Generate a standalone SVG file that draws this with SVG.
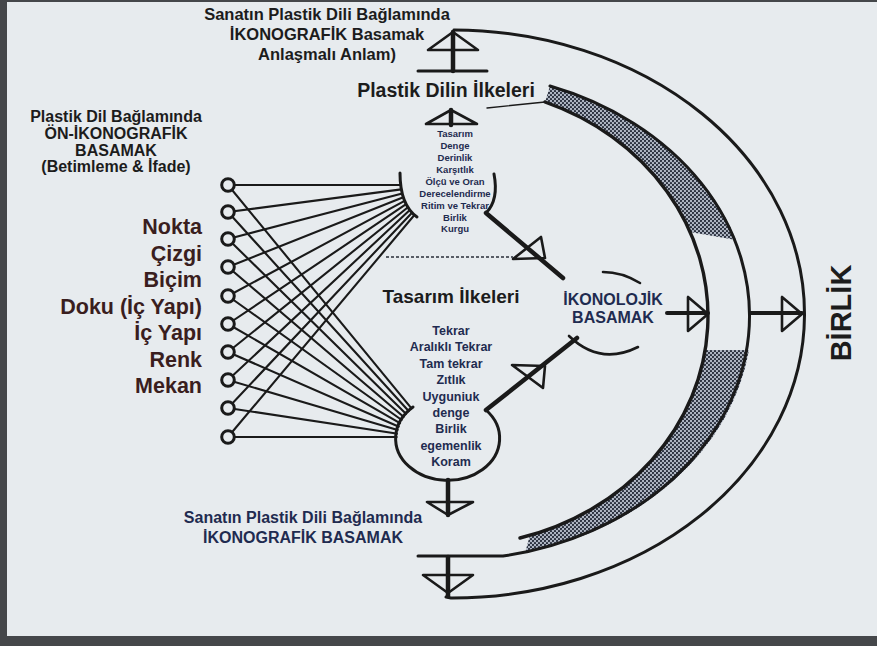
<svg xmlns="http://www.w3.org/2000/svg" width="877" height="646" viewBox="0 0 877 646">
<style>
text{font-family:"Liberation Sans",Arial,sans-serif;font-weight:bold}
.blk{fill:#1c1c1c}
.nav{fill:#1f2b50}
.mar{fill:#3a1e1e}
.ln{stroke:#1a1a1a;fill:none;stroke-linecap:round;stroke-linejoin:round}
.fan{stroke:#1a1a1a;stroke-width:2.1;fill:none}
.tri{stroke:#1a1a1a;stroke-width:2.6;fill:none;stroke-linejoin:round}
.dot{fill:#e7ebee;stroke:#1a1a1a;stroke-width:3}
</style>
<defs>
<pattern id="hatch" width="4" height="4" patternUnits="userSpaceOnUse">
<rect width="4" height="4" fill="#aeb5c2"/>
<circle cx="1" cy="1" r="1.1" fill="#222836"/>
<circle cx="3" cy="3" r="1.1" fill="#222836"/>
</pattern>
</defs>
<rect width="877" height="646" fill="#45474a"/>
<rect x="7" y="2" width="870" height="634" fill="#e7ebee"/>

<g id="band">
<path d="M550,86 A300,244 0 0 1 736,240 L690,232 A256,230 0 0 0 545,102 Z" fill="url(#hatch)"/>
<path d="M705,350 L749,350 A300,244 0 0 1 525,553 L530,535 A256,230 0 0 0 705,350 Z" fill="url(#hatch)"/>
</g>

<g id="connectors">
<path class="ln" stroke-width="3" d="M454,30 A352,284 0 0 1 451,598 L446,597"/>
<path class="ln" stroke-width="3" d="M550,86 A300,244 0 0 1 503,556 L418,556"/>
<path class="ln" stroke-width="1.4" d="M487,108 L545,102"/>
<path class="ln" stroke-width="3.4" d="M545,102 A256,230 0 0 1 520,538"/>
<path class="ln" stroke-width="4.5" d="M453,32 L453,71"/>
<polygon class="tri" points="453,32 428,50 478,50"/>
<path class="ln" stroke-width="3" d="M418,71 L487,71"/>
<path class="ln" stroke-width="4.5" d="M451,110 L451,125"/>
<polygon class="tri" points="451,110 426,124 477,124"/>
<path class="ln" stroke-width="4.5" d="M448,480 L448,515"/>
<polygon class="tri" points="427,502 473,502 448,515"/>
<path class="ln" stroke-width="4.5" d="M448,557 L448,596"/>
<polygon class="tri" points="423,575 473,575 448,593"/>
<path class="ln" stroke-width="3" d="M400,173 Q400,205 417,217"/>
<path class="ln" stroke-width="3" d="M494,174 Q499,200 486,213"/>
<path class="ln" stroke-width="3" d="M413,407 A52,42 0 1 0 486,410"/>
<path class="ln" stroke-width="4.5" d="M486,213 L563,278"/>
<polygon class="tri" points="541,237 545,258 513,259"/>
<path stroke="#2a2f3a" stroke-width="1.5" stroke-dasharray="3,2" d="M386,257 L513,257"/>
<path class="ln" stroke-width="4.5" d="M486,410 L577,338"/>
<polygon class="tri" points="512,365 545,366 543,388"/>
<path class="ln" stroke-width="2.6" d="M603,272 Q622,272 640,283"/>
<path class="ln" stroke-width="2.6" d="M569,336 Q600,366 638,347"/>
<path class="ln" stroke-width="4" d="M667,313 L708,313"/>
<polygon class="tri" points="688,297 688,331 708,314"/>
<path class="ln" stroke-width="4" d="M750,313 L802,313"/>
<polygon class="tri" points="782,297 782,331 802,314"/>
<g class="fan">
<path d="M228,185 L400.7,185 M228,185 L412.1,409.2"/>
<path d="M228,212 L401.3,189.4 M228,212 L409.3,411.8"/>
<path d="M228,239 L402.2,193.5 M228,239 L406.7,414.5"/>
<path d="M228,267 L403.3,197.3 M228,267 L404.4,417.5"/>
<path d="M228,296 L404.6,200.9 M228,296 L402.4,420.5"/>
<path d="M228,324 L406.1,204.2 M228,324 L400.8,423.7"/>
<path d="M228,352 L407.9,207.3 M228,352 L399.5,427"/>
<path d="M228,380 L409.8,210.1 M228,380 L398.5,430.3"/>
<path d="M228,408 L412,212.7 M228,408 L397.8,433.7"/>
<path d="M228,437 L414.4,215 M228,437 L397.5,437"/>
</g>
</g>

<g id="circles">
<circle class="dot" cx="228" cy="185" r="6.3"/>
<circle class="dot" cx="228" cy="212" r="6.3"/>
<circle class="dot" cx="228" cy="239" r="6.3"/>
<circle class="dot" cx="228" cy="267" r="6.3"/>
<circle class="dot" cx="228" cy="296" r="6.3"/>
<circle class="dot" cx="228" cy="324" r="6.3"/>
<circle class="dot" cx="228" cy="352" r="6.3"/>
<circle class="dot" cx="228" cy="380" r="6.3"/>
<circle class="dot" cx="228" cy="408" r="6.3"/>
<circle class="dot" cx="228" cy="437" r="6.3"/>
</g>

<g id="ikonografik-top" class="blk" font-size="16.5" text-anchor="middle">
<text x="327" y="20">Sanatın Plastik Dili Bağlamında</text>
<text x="327" y="40">İKONOGRAFİK Basamak</text>
<text x="327" y="60">Anlaşmalı Anlam)</text>
</g>

<g id="plastik-dilin-ilkeleri">
<text class="blk" x="446" y="97" font-size="19.5" text-anchor="middle">Plastik Dilin İlkeleri</text>
<g class="nav" font-size="9.5" text-anchor="middle">
<text x="455" y="137">Tasarım</text>
<text x="455" y="149">Denge</text>
<text x="455" y="161">Derinlik</text>
<text x="455" y="173">Karşıtlık</text>
<text x="455" y="184.5">Ölçü ve Oran</text>
<text x="455" y="196.5">Derecelendirme</text>
<text x="455" y="208.5">Ritim ve Tekrar</text>
<text x="455" y="220.5">Birlik</text>
<text x="455" y="232">Kurgu</text>
</g>
</g>

<g id="on-ikonografik" class="blk" font-size="16" text-anchor="middle">
<text x="116" y="122">Plastik Dil Bağlamında</text>
<text x="116" y="139">ÖN-İKONOGRAFİK</text>
<text x="116" y="156">BASAMAK</text>
<text x="116" y="172">(Betimleme &amp; İfade)</text>
</g>

<g id="elements" class="mar" font-size="21.5" text-anchor="end">
<text x="202" y="234">Nokta</text>
<text x="202" y="260.5">Çizgi</text>
<text x="202" y="287">Biçim</text>
<text x="202" y="313.5">Doku (İç Yapı)</text>
<text x="202" y="340">İç Yapı</text>
<text x="202" y="366.5">Renk</text>
<text x="202" y="393">Mekan</text>
</g>

<g id="tasarim-ilkeleri">
<text class="blk" x="451" y="303" font-size="19" text-anchor="middle">Tasarım İlkeleri</text>
<g class="nav" font-size="12.5" text-anchor="middle">
<text x="451" y="335">Tekrar</text>
<text x="451" y="351.4">Aralıklı Tekrar</text>
<text x="451" y="367.8">Tam tekrar</text>
<text x="451" y="384.2">Zıtlık</text>
<text x="451" y="400.6">Uyguniuk</text>
<text x="451" y="417">denge</text>
<text x="451" y="433.4">Birlik</text>
<text x="451" y="449.8">egemenlik</text>
<text x="451" y="466.2">Koram</text>
</g>
</g>

<g id="ikonolojik" class="nav" font-size="16" text-anchor="middle">
<text x="613" y="305">İKONOLOJİK</text>
<text x="613" y="323">BASAMAK</text>
</g>

<g id="ikonografik-bottom" class="nav" font-size="16" text-anchor="middle">
<text x="303" y="523">Sanatın Plastik Dili Bağlamında</text>
<text x="303" y="543">İKONOGRAFİK BASAMAK</text>
</g>

<g id="birlik">
<text class="blk" transform="translate(851,313) rotate(-90)" font-size="29" text-anchor="middle">BİRLİK</text>
</g>
</svg>
